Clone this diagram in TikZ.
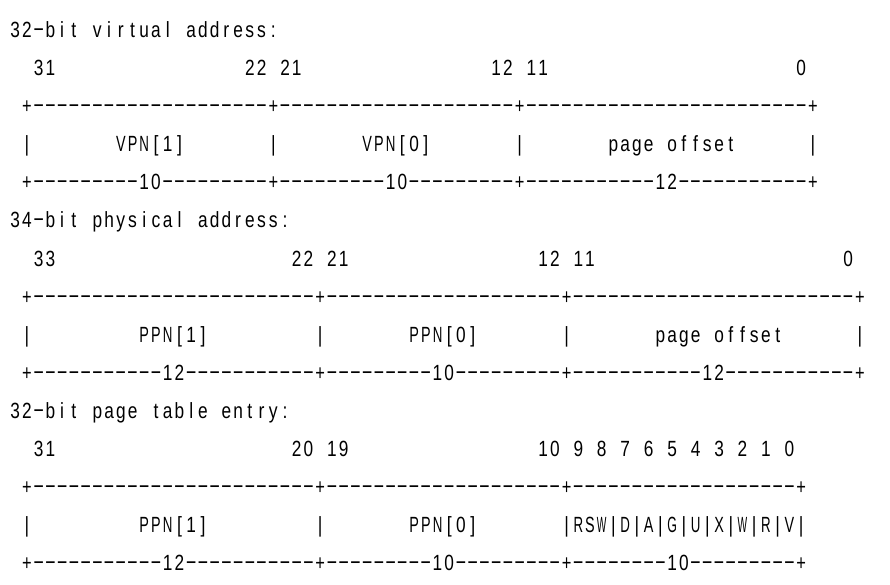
\documentclass[tikz,border=0pt]{standalone}
\usepackage{fontspec}
\usepackage{graphicx}
\newfontfamily\ascfont{Liberation Sans}
\newcommand\asciidash{\raisebox{2pt}{\scalebox{1.6}[1]{-}}}
\ExplSyntaxOn
\dim_new:N \g_asc_pitch_dim
\dim_gset:Nn \g_asc_pitch_dim {11.73pt}
\dim_new:N \g_asc_maxw_dim
\dim_gset:Nn \g_asc_maxw_dim {9.6pt}
\box_new:N \l_asc_box
\fp_new:N \l_asc_fp
\cs_new_protected:Npn \asc_glyph:n #1
  {
    \hbox_set:Nn \l_asc_box { #1 }
    \box_scale:Nnn \l_asc_box {0.8} {1}
    \dim_compare:nNnT { \box_wd:N \l_asc_box } > { \g_asc_maxw_dim }
      {
        \fp_set:Nn \l_asc_fp { \dim_to_fp:n { \g_asc_maxw_dim } / \dim_to_fp:n { \box_wd:N \l_asc_box } }
        \box_scale:Nnn \l_asc_box { \l_asc_fp } {1}
      }
    \hbox_to_wd:nn {\g_asc_pitch_dim} { \hss \box_use_drop:N \l_asc_box \hss }
  }
\cs_new_protected:Npn \asc_char:n #1
  {
    \str_case:nnF {#1}
      {
        {-} { \hbox_to_wd:nn {\g_asc_pitch_dim} { \hss \asciidash \hss } }
      }
      { \asc_glyph:n {#1} }
  }
\NewDocumentCommand{\asctext}{m}{ \str_map_inline:nn {#1} { \asc_char:n {##1} } }
\ExplSyntaxOff
\newcommand{\ascrow}[4]{\node[ascnode] (#1) at ({9.4+#3*11.73},{29.5+38.1*#2+7.9}) {\asctext{#4}};}
\begin{document}
\begin{tikzpicture}[x=1pt,y=-1pt,
  ascnode/.style={anchor=base west,inner sep=0pt,outer sep=0pt,font=\ascfont\fontsize{22}{22}\selectfont}]
\useasboundingbox (0,0) rectangle (890,584);
% 32-bit virtual address
\ascrow{t1}{0}{0}{32-bit virtual address:}
\ascrow{b1a}{1}{2}{31}
\ascrow{b1b}{1}{20}{22 21}
\ascrow{b1c}{1}{41}{12 11}
\ascrow{b1d}{1}{67}{0}
\ascrow{top1}{2}{1}{+--------------------+--------------------+------------------------+}
\ascrow{m1a}{3}{1}{|}
\ascrow{m1b}{3}{9}{VPN[1]}
\ascrow{m1c}{3}{22}{|}
\ascrow{m1d}{3}{30}{VPN[0]}
\ascrow{m1e}{3}{43}{|}
\ascrow{m1f}{3}{51}{page offset}
\ascrow{m1g}{3}{68}{|}
\ascrow{bot1}{4}{1}{+---------10---------+---------10---------+-----------12-----------+}
% 34-bit physical address
\ascrow{t2}{5}{0}{34-bit physical address:}
\ascrow{b2a}{6}{2}{33}
\ascrow{b2b}{6}{24}{22 21}
\ascrow{b2c}{6}{45}{12 11}
\ascrow{b2d}{6}{71}{0}
\ascrow{top2}{7}{1}{+------------------------+--------------------+------------------------+}
\ascrow{m2a}{8}{1}{|}
\ascrow{m2b}{8}{11}{PPN[1]}
\ascrow{m2c}{8}{26}{|}
\ascrow{m2d}{8}{34}{PPN[0]}
\ascrow{m2e}{8}{47}{|}
\ascrow{m2f}{8}{55}{page offset}
\ascrow{m2g}{8}{72}{|}
\ascrow{bot2}{9}{1}{+-----------12-----------+---------10---------+-----------12-----------+}
% 32-bit page table entry
\ascrow{t3}{10}{0}{32-bit page table entry:}
\ascrow{b3a}{11}{2}{31}
\ascrow{b3b}{11}{24}{20 19}
\ascrow{b3c}{11}{45}{10 9 8 7 6 5 4 3 2 1 0}
\ascrow{top3}{12}{1}{+------------------------+--------------------+-------------------+}
\ascrow{m3a}{13}{1}{|}
\ascrow{m3b}{13}{11}{PPN[1]}
\ascrow{m3c}{13}{26}{|}
\ascrow{m3d}{13}{34}{PPN[0]}
\ascrow{m3e}{13}{47}{|RSW|D|A|G|U|X|W|R|V|}
\ascrow{bot3}{14}{1}{+-----------12-----------+---------10---------+--------10---------+}
\end{tikzpicture}
\end{document}
